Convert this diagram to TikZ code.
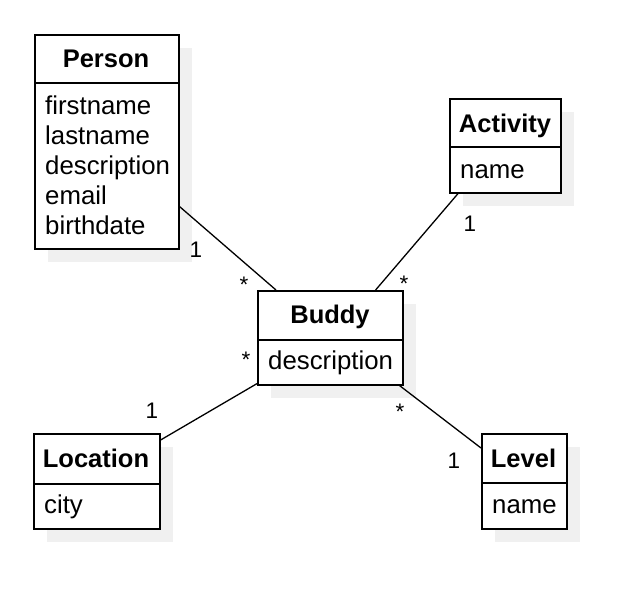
\documentclass[tikz,border=0pt]{standalone}
\usepackage{fontspec}
\setmainfont{Liberation Sans}
\begin{document}
\begin{tikzpicture}[x=1pt,y=-1pt,
  box/.style={draw=black,line width=1.6pt,fill=white,rectangle,inner sep=0pt,anchor=north west},
  shade/.style={fill=black!6,draw=none},
  divider/.style={line width=1.6pt},
  ctitle/.style={font=\fontsize{25.5}{30}\selectfont\bfseries,inner sep=0pt,anchor=base},
  attr/.style={font=\fontsize{25.8}{30}\selectfont,inner sep=0pt,anchor=base west},
  mult/.style={font=\fontsize{22.5}{27}\selectfont,inner sep=0pt,anchor=base},
  conn/.style={line width=1.3pt}]
\useasboundingbox (0,0) rectangle (632,594);
% shadows
\fill[shade] (48,48) rectangle (192,262);
\fill[shade] (271,304) rectangle (416,398);
\fill[shade] (463,112) rectangle (574,206);
\fill[shade] (47,447) rectangle (173,542);
\fill[shade] (495,447) rectangle (580,542);
% Person
\node[box,minimum width=144pt,minimum height=214pt] (person) at (34,34) {};
\draw[divider] (34,83) -- (178,83);
\node[ctitle] (persont) at (106,67) {Person};
\node[attr] (p1) at (45,114) {firstname};
\node[attr] (p2) at (45,144) {lastname};
\node[attr] (p3) at (45,174) {description};
\node[attr] (p4) at (45,204) {email};
\node[attr] (p5) at (45,234) {birthdate};
% Buddy
\node[box,minimum width=145pt,minimum height=94pt] (buddy) at (257,290) {};
\draw[divider] (257,340) -- (402,340);
\node[ctitle] (buddyt) at (330,323) {Buddy};
\node[attr] (b1) at (268,369) {description};
% Activity
\node[box,minimum width=111pt,minimum height=94pt] (activity) at (449,98) {};
\draw[divider] (449,147) -- (560,147);
\node[ctitle] (activityt) at (505,132) {Activity};
\node[attr] (a1) at (460,178) {name};
% Location
\node[box,minimum width=126pt,minimum height=95pt] (location) at (33,433) {};
\draw[divider] (33,484) -- (159,484);
\node[ctitle] (locationt) at (96,467) {Location};
\node[attr] (l1) at (44,513) {city};
% Level
\node[box,minimum width=85pt,minimum height=95pt] (level) at (481,433) {};
\draw[divider] (481,483) -- (566,483);
\node[ctitle] (levelt) at (523.5,467) {Level};
\node[attr] (v1) at (492,513) {name};
% connectors
\draw[conn] ([yshift=43pt]person.south east) -- ([xshift=19pt]buddy.north west);
\draw[conn] ([xshift=9pt]activity.south west) -- ([xshift=-28pt]buddy.north east);
\draw[conn] ([yshift=-7pt]location.north east) -- ([yshift=2pt]buddy.south west);
\draw[conn] ([yshift=-15pt]level.north west) -- ([xshift=-4pt]buddy.south east);
% multiplicities
\node[mult] (m1) at (196,257) {1};
\node[mult] (m2) at (244,292) {*};
\node[mult] (m3) at (404,291) {*};
\node[mult] (m4) at (470,231) {1};
\node[mult] (m5) at (246,367) {*};
\node[mult] (m6) at (152,418) {1};
\node[mult] (m7) at (400,419) {*};
\node[mult] (m8) at (454,468) {1};
\end{tikzpicture}
\end{document}
